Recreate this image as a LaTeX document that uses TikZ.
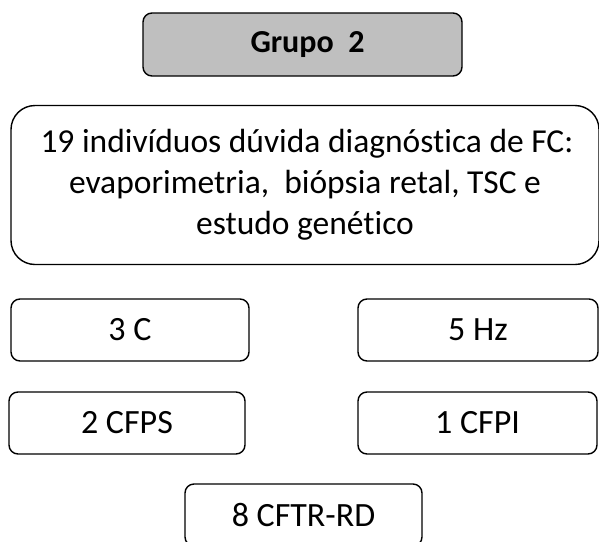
\documentclass[tikz,border=0pt]{standalone}
\usepackage{fontspec}
\setmainfont[Ligatures=NoCommon]{Carlito}
\begin{document}
\begin{tikzpicture}[x=1pt,y=1pt,
  box/.style={draw,line width=1.4pt,rounded corners=9pt,inner sep=0pt,align=center,
    minimum height=62,font=\fontsize{34}{40}\selectfont}]
        \useasboundingbox (0,0) rectangle (599,-541);
        \node[box,fill=gray!50,minimum width=319,minimum height=63,
          font=\fontsize{32}{38}\selectfont\bfseries] (grupo) at (302.5,-44.5) {\hspace*{10pt}Grupo~~2};
        \node[box,minimum width=588,minimum height=159,rounded corners=24pt,
          font=\fontsize{33.5}{41}\selectfont] (duvida) at (305,-185)
          {\hspace*{4pt}19 indivíduos dúvida diagnóstica de FC:\\
           evaporimetria,~ biópsia retal, TSC e\\
           estudo genético};
        \node[box,minimum width=238] (c) at (130,-330) {3 C};
        \node[box,minimum width=240] (hz) at (478,-330) {5 Hz};
        \node[box,minimum width=236] (cfps) at (127,-423) {2 CFPS};
        \node[box,minimum width=239] (cfpi) at (477.5,-423) {1 CFPI};
        \node[box,minimum width=237] (rd) at (303.5,-515) {8 CFTR-RD};
    \end{tikzpicture}
\end{document}
